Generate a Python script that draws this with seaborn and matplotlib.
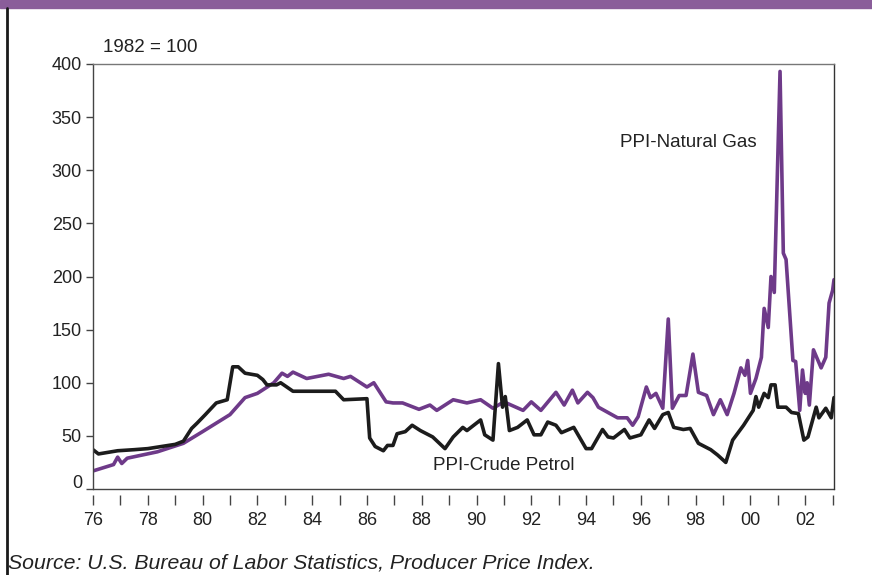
import pandas as pd
import seaborn as sns
import matplotlib.pyplot as plt
from matplotlib.lines import Line2D
from matplotlib.patches import Rectangle
from matplotlib.transforms import ScaledTranslation

# PPI crude petroleum (decimal year, index 1982 = 100)
crude_t = [1976.0, 1976.2, 1976.9, 1977.5, 1978.0, 1978.5, 1979.0, 1979.3, 1979.6, 1979.8,
           1980.1, 1980.5, 1980.9, 1981.1, 1981.3, 1981.55, 1982.0, 1982.2, 1982.35, 1982.7,
           1982.85, 1983.3, 1984.85, 1985.15, 1986.0, 1986.1, 1986.3, 1986.6, 1986.75, 1986.95,
           1987.1, 1987.4, 1987.65, 1987.95, 1988.4, 1988.85, 1989.15, 1989.5, 1989.65, 1990.15,
           1990.3, 1990.6, 1990.8, 1990.95, 1991.05, 1991.2, 1991.5, 1991.85, 1992.1, 1992.35,
           1992.6, 1992.9, 1993.1, 1993.55, 1994.0, 1994.2, 1994.6, 1994.8, 1995.0, 1995.4,
           1995.6, 1996.0, 1996.3, 1996.5, 1996.8, 1997.0, 1997.2, 1997.55, 1997.8, 1998.1,
           1998.55, 1998.8, 1999.1, 1999.35, 1999.75, 2000.1, 2000.2, 2000.3, 2000.5, 2000.65,
           2000.75, 2000.9, 2001.0, 2001.3, 2001.5, 2001.75, 2001.95, 2002.1, 2002.4, 2002.5,
           2002.75, 2002.95, 2003.05]
crude_v = [37, 33, 36, 37, 38, 40, 42, 45, 57, 62,
           70, 81, 84, 115, 115, 109, 107, 103, 98, 98,
           100, 92, 92, 84, 85, 48, 40, 36, 41, 41,
           52, 54, 60, 55, 49, 38, 49, 58, 55, 65,
           51, 46, 118, 77, 87, 55, 58, 65, 51, 51,
           63, 60, 53, 58, 38, 38, 56, 49, 48, 56,
           48, 51, 65, 57, 70, 72, 58, 56, 57, 43,
           37, 32, 25, 46, 60, 74, 87, 77, 90, 86,
           98, 98, 77, 77, 72, 71, 46, 49, 77, 67,
           76, 67, 86]

# PPI natural gas
gas_t = [1976.0, 1976.75, 1976.9, 1977.05, 1977.25, 1978.35, 1979.3, 1980.0, 1981.0, 1981.55,
         1982.0, 1982.6, 1982.9, 1983.1, 1983.3, 1983.8, 1984.6, 1985.15, 1985.4, 1986.0,
         1986.25, 1986.5, 1986.7, 1986.95, 1987.3, 1987.9, 1988.3, 1988.55, 1989.15, 1989.65,
         1990.15, 1990.6, 1991.0, 1991.35, 1991.7, 1992.0, 1992.35, 1992.9, 1993.2, 1993.5,
         1993.7, 1994.05, 1994.25, 1994.45, 1994.8, 1995.15, 1995.5, 1995.7, 1995.9, 1996.2,
         1996.35, 1996.55, 1996.8, 1997.0, 1997.15, 1997.4, 1997.65, 1997.9, 1998.1, 1998.4,
         1998.65, 1998.9, 1999.15, 1999.4, 1999.65, 1999.8, 1999.9, 2000.0, 2000.2, 2000.4,
         2000.5, 2000.65, 2000.75, 2000.87, 2001.08, 2001.2, 2001.3, 2001.55, 2001.65, 2001.8,
         2001.9, 2002.0, 2002.07, 2002.15, 2002.3, 2002.58, 2002.75, 2002.87, 2003.0, 2003.05]
gas_v = [17, 23, 30, 24, 29, 35, 43, 54, 70, 86,
         90, 100, 109, 106, 110, 104, 108, 104, 106, 96,
         100, 90, 82, 81, 81, 75, 79, 74, 84, 81,
         84, 76, 82, 78, 74, 82, 74, 91, 79, 93,
         81, 91, 86, 77, 72, 67, 67, 60, 68, 96,
         86, 90, 76, 160, 76, 88, 88, 127, 91, 88,
         70, 84, 70, 90, 114, 107, 121, 90, 104, 124,
         170, 152, 200, 185, 393, 222, 216, 121, 120, 74,
         112, 90, 100, 79, 131, 114, 124, 175, 187, 197]

year_ticks = list(range(1976, 2004))
label_years = list(range(1976, 2003, 2))

crude_df = pd.DataFrame({"year": crude_t, "index": crude_v})
gas_df = pd.DataFrame({"year": gas_t, "index": gas_v})

sns.set_style("ticks")
plt.rcParams['font.family'] = ['Liberation Sans', 'DejaVu Sans']

fig = plt.figure(figsize=(8.72, 5.75), dpi=100)
ax = fig.add_axes([93/872, 1 - 489/575, (834 - 93)/872, (489 - 64)/575])

purple = '#6e3a89'
sns.lineplot(data=gas_df, x="year", y="index", ax=ax, color=purple, lw=2.6)
sns.lineplot(data=crude_df, x="year", y="index", ax=ax, color='#1c1c1c', lw=2.6)

ax.set_xlim(1976, 2003.05)
ax.set_ylim(0, 400)
ax.set_xlabel('')
ax.set_ylabel('')

ax.set_yticks(range(0, 401, 50))
ax.set_xticks(year_ticks)
ax.set_xticklabels([f"{y % 100:02d}" if y in label_years else '' for y in year_ticks])
ax.tick_params(axis='x', length=7.5, width=1, color='#444', labelsize=13, pad=5, labelcolor='#222')
ax.tick_params(axis='y', length=5, width=1, color='#444', labelsize=13, pad=3, labelcolor='#222')

# x ticks sit a little below the axis line, like the original
ax.spines['bottom'].set_position(('outward', 4))
ax.spines['bottom'].set_color('none')
ax.axhline(0, color='#444', lw=1, clip_on=False, zorder=0)

ax.spines['left'].set_color('#444')
ax.spines['left'].set_linewidth(1)
ax.spines['top'].set_color('#777')
ax.spines['right'].set_color('#333')
ax.spines['top'].set_linewidth(1)
ax.spines['right'].set_linewidth(1)

# the "0" label is lifted off the x axis
zero_lbl = ax.get_yticklabels()[0]
zero_lbl.set_transform(zero_lbl.get_transform() + ScaledTranslation(0, 7/100, fig.dpi_scale_trans))

ax.text(1995.25, 326, 'PPI-Natural Gas', fontsize=13.5, color='#222', va='center', ha='left')
ax.text(1988.4, 22.5, 'PPI-Crude Petrol', fontsize=13.5, color='#222', va='center', ha='left')
fig.text(103/872, 1 - 47/575, '1982 = 100', fontsize=13.5, color='#222', va='center', ha='left')
fig.text(8/872, 1 - 563/575, 'Source: U.S. Bureau of Labor Statistics, Producer Price Index.',
         fontsize=15.3, style='italic', color='#222', va='center', ha='left')

# purple band at the top and the left frame line
fig.patches.append(Rectangle((0, 1 - 8/575), 1, 8/575, transform=fig.transFigure,
                             color='#8a5d9a', zorder=0))
fig.lines.append(Line2D([7/872, 7/872], [0, 1 - 8/575], transform=fig.transFigure,
                        color='#1a1a1a', lw=2))

fig.savefig('out.png', dpi=100)
